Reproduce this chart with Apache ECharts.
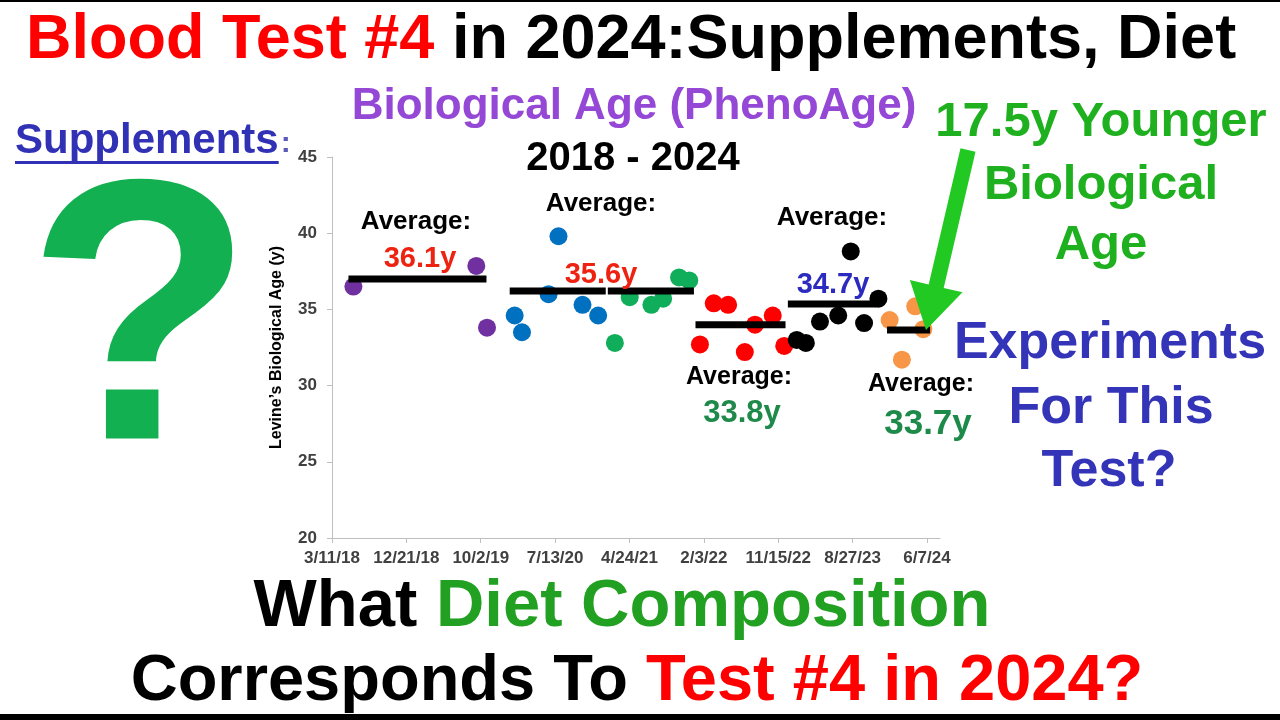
<!DOCTYPE html>
<html>
<head>
<meta charset="utf-8">
<title>Blood Test #4 in 2024</title>
<script src="https://cdn.jsdelivr.net/npm/echarts@6/dist/echarts.min.js"></script>
<style>
  html, body { margin: 0; padding: 0; background: #fff; }
  #chart { width: 1280px; height: 720px; }
</style>
</head>
<body>
<div id="chart"></div>
<script>
// test dates and PhenoAge values, one pair of arrays per period
const purpleDates = ["2018-06-01", "2019-09-15", "2019-10-26"];
const purpleAges = [36.5, 37.85, 33.8];
const blueDates = ["2020-02-09", "2020-03-08", "2020-06-18", "2020-07-26", "2020-10-26", "2020-12-25"];
const blueAges = [34.6, 33.5, 36.0, 39.8, 35.3, 34.6];
const greenDates = ["2021-02-27", "2021-04-25", "2021-07-17", "2021-08-31", "2021-10-31", "2021-12-09"];
const greenAges = [32.8, 35.8, 35.3, 35.7, 37.1, 36.9];
const redDates = ["2022-01-19", "2022-03-13", "2022-05-07", "2022-07-10", "2022-08-18", "2022-10-25", "2022-12-08"];
const redAges = [32.7, 35.4, 35.3, 32.2, 34.0, 34.6, 32.6];
const blackDates = ["2023-01-25", "2023-03-01", "2023-04-24", "2023-07-03", "2023-08-20", "2023-10-10", "2023-12-04"];
const blackAges = [33.0, 32.8, 34.2, 34.6, 38.8, 34.1, 35.7];
const orangeDates = ["2024-01-16", "2024-03-03", "2024-04-23", "2024-05-24"];
const orangeAges = [34.3, 31.7, 35.2, 33.7];

// black average bars: start date, end date, level
const avgStart = ["2018-05-13", "2020-01-21", "2021-01-31", "2022-01-02", "2022-12-22", "2024-01-06"];
const avgEnd = ["2019-10-24", "2021-01-23", "2021-12-27", "2022-12-13", "2023-11-27", "2024-06-19"];
const avgLevel = [37.0, 36.2, 36.2, 34.0, 35.35, 33.65];

const yTicks = [20, 25, 30, 35, 40, 45];
const xStartDate = "2018-03-11";
const xStepDays = 285;
const xMaxDays = 2330;

const DAY = 86400000;
const origin = Date.parse(xStartDate);
const toDays = d => (Date.parse(d) - origin) / DAY;
const pairs = (dates, ages) => dates.map((d, i) => [toDays(d), ages[i]]);

const FONT = '"Liberation Sans", Arial, sans-serif';
const ctx = document.createElement("canvas").getContext("2d");
function measure(t, size) {
  ctx.font = "bold " + size + "px " + FONT;
  return ctx.measureText(t).width;
}

function txt(x, y, text, size, color, align) {
  return {
    type: "text",
    x: x,
    y: y,
    z: 100,
    style: {
      text: text,
      fill: color,
      font: "bold " + size + "px " + FONT,
      textAlign: align || "center",
      textVerticalAlign: "middle"
    }
  };
}

// several coloured pieces on one line
function seg(parts, x, y, size, align) {
  const widths = parts.map(p => measure(p[0], size));
  const total = widths.reduce((a, b) => a + b, 0);
  let cur = align === "left" ? x : x - total / 2;
  return parts.map((p, i) => {
    const el = txt(cur, y, p[0], size, p[1], "left");
    cur += widths[i];
    return el;
  });
}

const chart = echarts.init(document.getElementById("chart"));

const groups = [
  [purpleDates, purpleAges, "#7030a0"],
  [blueDates, blueAges, "#0070c0"],
  [greenDates, greenAges, "#10ad5a"],
  [redDates, redAges, "#ff0000"],
  [blackDates, blackAges, "#000000"],
  [orangeDates, orangeAges, "#f79646"]
];

const series = groups.map(g => ({
  type: "scatter",
  data: pairs(g[0], g[1]),
  symbolSize: 18,
  itemStyle: { color: g[2], opacity: 1 },
  z: 2
}));

avgStart.forEach((s, i) => {
  series.push({
    type: "line",
    data: [[toDays(s), avgLevel[i]], [toDays(avgEnd[i]), avgLevel[i]]],
    symbol: "none",
    lineStyle: { color: "#000", width: 7 },
    z: 3
  });
});

const supW = measure("Supplements", 42);

const graphic = [
  { type: "rect", shape: { x: 0, y: 0, width: 1280, height: 2 }, style: { fill: "#000" } },
  { type: "rect", shape: { x: 0, y: 714, width: 1280, height: 6 }, style: { fill: "#000" } },
  ...seg([["Blood Test #4", "#ff0000"], [" in 2024:", "#000"], ["Supplements, Diet", "#000"]], 26, 41, 63, "left"),
  txt(634, 107, "Biological Age (PhenoAge)", 44, "#9448d5"),
  txt(633, 159, "2018 - 2024", 40, "#000"),
  txt(15, 141, "Supplements", 42, "#3131b5", "left"),
  txt(15 + supW + 2, 144, ":", 30, "#5a5ab8", "left"),
  { type: "rect", shape: { x: 15, y: 161, width: supW, height: 3 }, style: { fill: "#3131b5" }, z: 100 },
  txt(140, 336, "?", 372, "#12b050"),
  txt(1101, 122, "17.5y Younger", 49, "#1fb01f"),
  txt(1101, 185, "Biological", 49, "#1fb01f"),
  txt(1101, 245, "Age", 49, "#1fb01f"),
  txt(1110, 344, "Experiments", 52, "#3434b8"),
  txt(1111, 409, "For This", 52, "#3434b8"),
  txt(1109, 472, "Test?", 52, "#3434b8"),
  txt(416, 222, "Average:", 26, "#000"),
  txt(420, 259, "36.1y", 29, "#ee2211"),
  txt(601, 204, "Average:", 26, "#000"),
  txt(601, 275, "35.6y", 29, "#ee2211"),
  txt(832, 218, "Average:", 26, "#000"),
  txt(833, 285, "34.7y", 29, "#2b2bc0"),
  txt(739, 377, "Average:", 25, "#000"),
  txt(742, 413, "33.8y", 31, "#1e8a4a"),
  txt(921, 384, "Average:", 25, "#000"),
  txt(928, 424, "33.7y", 35, "#1e8a4a"),
  ...seg([["What ", "#000"], ["Diet Composition", "#22a022"]], 622, 608, 67),
  ...seg([["Corresponds To ", "#000"], ["Test #4 in 2024?", "#ff0000"]], 637, 682, 65),
  {
    type: "polygon",
    z: 101,
    shape: {
      points: [[975.5, 151.8], [943.7, 288], [962.5, 292.3], [926, 330], [909.9, 280.1], [928.7, 284.4], [960.5, 148.2]]
    },
    style: { fill: "#22c922" }
  }
];

chart.setOption({
  animation: false,
  grid: { left: 332, right: 340, top: 157, bottom: 182, containLabel: false },
  xAxis: {
    type: "value",
    min: 0,
    max: xMaxDays,
    interval: xStepDays,
    splitLine: { show: false },
    axisLine: { lineStyle: { color: "#bfbfbf" } },
    axisTick: { lineStyle: { color: "#bfbfbf" }, length: 5 },
    axisLabel: {
      color: "#404040",
      fontWeight: "bold",
      fontSize: 17,
      fontFamily: FONT,
      margin: 12,
      showMaxLabel: false,
      formatter: v => {
        if (v % xStepDays !== 0) return "";
        const d = new Date(origin + v * DAY);
        return (d.getUTCMonth() + 1) + "/" + d.getUTCDate() + "/" + String(d.getUTCFullYear()).slice(2);
      }
    }
  },
  yAxis: {
    type: "value",
    min: yTicks[0],
    max: yTicks[yTicks.length - 1],
    interval: 5,
    name: "Levine\u2019s Biological Age (y)",
    nameLocation: "middle",
    nameGap: 47,
    nameTextStyle: { color: "#000", fontWeight: "bold", fontSize: 16, fontFamily: FONT },
    splitLine: { show: false },
    axisLine: { show: true, lineStyle: { color: "#bfbfbf" } },
    axisTick: { show: true, lineStyle: { color: "#bfbfbf" }, length: 5 },
    axisLabel: { color: "#404040", fontWeight: "bold", fontSize: 17, fontFamily: FONT, margin: 15 }
  },
  series: series,
  graphic: graphic
});
</script>
</body>
</html>
